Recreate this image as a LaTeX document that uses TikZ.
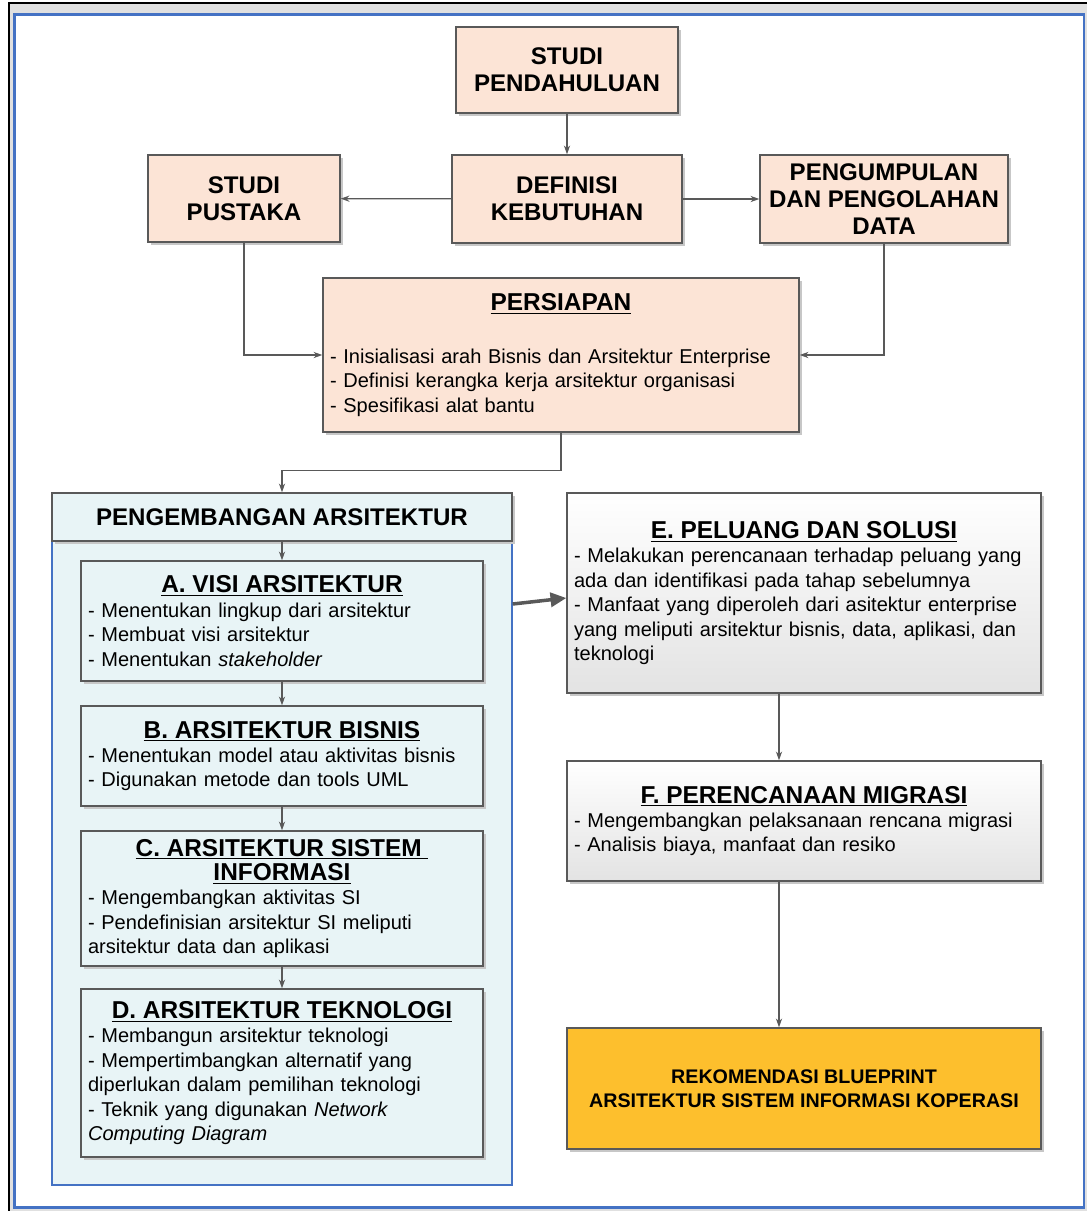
\documentclass[tikz,border=0pt]{standalone}
\usepackage{fontspec}
\setmainfont{Liberation Sans}
\usetikzlibrary{arrows.meta,shadows}

\definecolor{persik}{RGB}{252,228,214}
\definecolor{biruMuda}{RGB}{232,244,246}
\definecolor{emas}{RGB}{253,191,45}
\definecolor{biruBingkai}{RGB}{68,114,196}
\definecolor{abuGaris}{RGB}{89,89,89}

\newcommand{\judul}[1]{{\fontsize{13.9}{13.9}\selectfont\bfseries\underline{#1}}}
\newcommand{\tengah}[1]{\makebox[\linewidth]{\judul{#1}}}

\begin{document}
\begin{tikzpicture}[x=0.02cm, y=-0.02cm, font=\fontsize{11.4}{13.9}\selectfont,
  bayang/.style={drop shadow={shadow xshift=0.06cm, shadow yshift=-0.06cm, fill=black!22, opacity=1}},
  kotak/.style={draw=abuGaris, line width=0.8pt, fill=persik, align=center, inner xsep=0.14cm,
    inner ysep=0.1cm, font=\fontsize{13.7}{15.3}\selectfont\bfseries, bayang},
  langkah/.style={draw=abuGaris, line width=0.8pt, fill=biruMuda, align=left, inner xsep=0.14cm,
    inner ysep=0.1cm, text width=7.76cm, bayang},
  abu/.style={top color=white, bottom color=black!11, text width=9.2cm},
  wadah/.style={draw=biruBingkai, line width=0.8pt, fill=biruMuda},
  akhir/.style={draw=abuGaris, line width=0.8pt, fill=emas, align=center,
    font=\fontsize{11.2}{13.6}\selectfont\bfseries, bayang},
  panah/.style={draw=abuGaris, line width=0.7pt, -{Stealth[length=5pt,width=3.5pt]}},
  panahBesar/.style={draw=abuGaris, line width=2pt, -{Triangle[length=9pt,width=8pt]}}]
  \useasboundingbox (0,0) rectangle (1087,1211);
  % bingkai
  \fill[black!12] (9,3) rectangle (1087,1211);
  \draw[line width=1.2pt] (9,1211) -- (9,3) -- (1087,3);
  \draw[biruBingkai, line width=1.2pt, fill=white] (14.5,14.5) rectangle (1084,1207.5);

  % tahap awal
  \node[kotak, minimum width=4.44cm, minimum height=1.72cm] (pendahuluan) at (567,70) {STUDI\\PENDAHULUAN};
  \node[kotak, minimum width=3.84cm, minimum height=1.74cm] (pustaka) at (244,198.5) {STUDI\\PUSTAKA};
  \node[kotak, minimum width=4.6cm, minimum height=1.76cm] (definisi) at (567,199) {DEFINISI\\KEBUTUHAN};
  \node[kotak, minimum width=4.96cm, minimum height=1.76cm] (pengumpulan) at (884,199) {PENGUMPULAN\\DAN PENGOLAHAN\\DATA};
  \node[kotak, font=\fontsize{11.4}{13.9}\selectfont, align=left, text width=9.24cm, minimum height=3.08cm]
    (persiapan) at (561,355) {\tengah{PERSIAPAN}\\[0.57cm]
    - Inisialisasi arah Bisnis dan Arsitektur Enterprise\\
    - Definisi kerangka kerja arsitektur organisasi\\
    - Spesifikasi alat bantu};

  % pengembangan arsitektur
  \node[wadah, minimum width=9.2cm, minimum height=13.84cm] (arsitektur) at (282,839) {};
  \node[wadah, draw=abuGaris, minimum width=9.2cm, minimum height=0.96cm, bayang,
    font=\fontsize{13.7}{15.3}\selectfont\bfseries] (kepala) at (282,517) {PENGEMBANGAN ARSITEKTUR};
  \node[langkah, minimum height=2.4cm] (visi) at (282,621) {\tengah{A. VISI ARSITEKTUR}\\
    - Menentukan lingkup dari arsitektur\\
    - Membuat visi arsitektur\\
    - Menentukan \textit{stakeholder}};
  \node[langkah, minimum height=2cm] (bisnis) at (282,756) {\tengah{B. ARSITEKTUR BISNIS}\\
    - Menentukan model atau aktivitas bisnis\\
    - Digunakan metode dan tools UML};
  \node[langkah, minimum height=2.7cm] (sistem) at (282,898.5) {\tengah{C. ARSITEKTUR SISTEM\ }\\
    \tengah{INFORMASI}\\
    - Mengembangkan aktivitas SI\\
    - Pendefinisian arsitektur SI meliputi\\
    arsitektur data dan aplikasi};
  \node[langkah, minimum height=3.36cm] (teknologi) at (282,1073) {\tengah{D. ARSITEKTUR TEKNOLOGI}\\
    - Membangun arsitektur teknologi\\
    - Mempertimbangkan alternatif yang\\
    diperlukan dalam pemilihan teknologi\\
    - Teknik yang digunakan \textit{Network}\\
    \textit{Computing Diagram}};

  % tahap lanjut
  \node[langkah, abu, minimum height=4cm] (peluang) at (804,593) {\tengah{E. PELUANG DAN SOLUSI}\\
    - Melakukan perencanaan terhadap peluang yang\\
    ada dan identifikasi pada tahap sebelumnya\\
    - Manfaat yang diperoleh dari asitektur enterprise\\
    yang meliputi arsitektur bisnis, data, aplikasi, dan\\
    teknologi};
  \node[langkah, abu, minimum height=2.4cm] (migrasi) at (804,821) {\tengah{F. PERENCANAAN MIGRASI}\\
    - Mengembangkan pelaksanaan rencana migrasi\\
    - Analisis biaya, manfaat dan resiko};
  \node[akhir, minimum width=9.48cm, minimum height=2.42cm] (rekomendasi) at (804,1088.5)
    {REKOMENDASI BLUEPRINT\\ARSITEKTUR SISTEM INFORMASI KOPERASI};

  % panah
  \draw[panah] (pendahuluan) -- (definisi);
  \draw[panah] (definisi) -- (pustaka);
  \draw[panah] (definisi) -- (pengumpulan);
  \draw[panah] (pustaka.south) |- (persiapan.west);
  \draw[panah] (pengumpulan.south) |- (persiapan.east);
  \draw[panah] (persiapan.south) -- ++(0,38) -| (kepala.north);
  \draw[panah] (kepala) -- (visi);
  \draw[panah] (visi) -- (bisnis);
  \draw[panah] (bisnis) -- (sistem);
  \draw[panah] (sistem) -- (teknologi);
  \coordinate (keluar) at (arsitektur.east |- 0,604);
  \draw[panahBesar] (keluar) -- ([yshift=-0.1cm]peluang.west);
  \draw[panah] ([xshift=-0.5cm]peluang.south) -- ([xshift=-0.5cm]migrasi.north);
  \draw[panah] ([xshift=-0.5cm]migrasi.south) -- ([xshift=-0.5cm]rekomendasi.north);
\end{tikzpicture}
\end{document}
